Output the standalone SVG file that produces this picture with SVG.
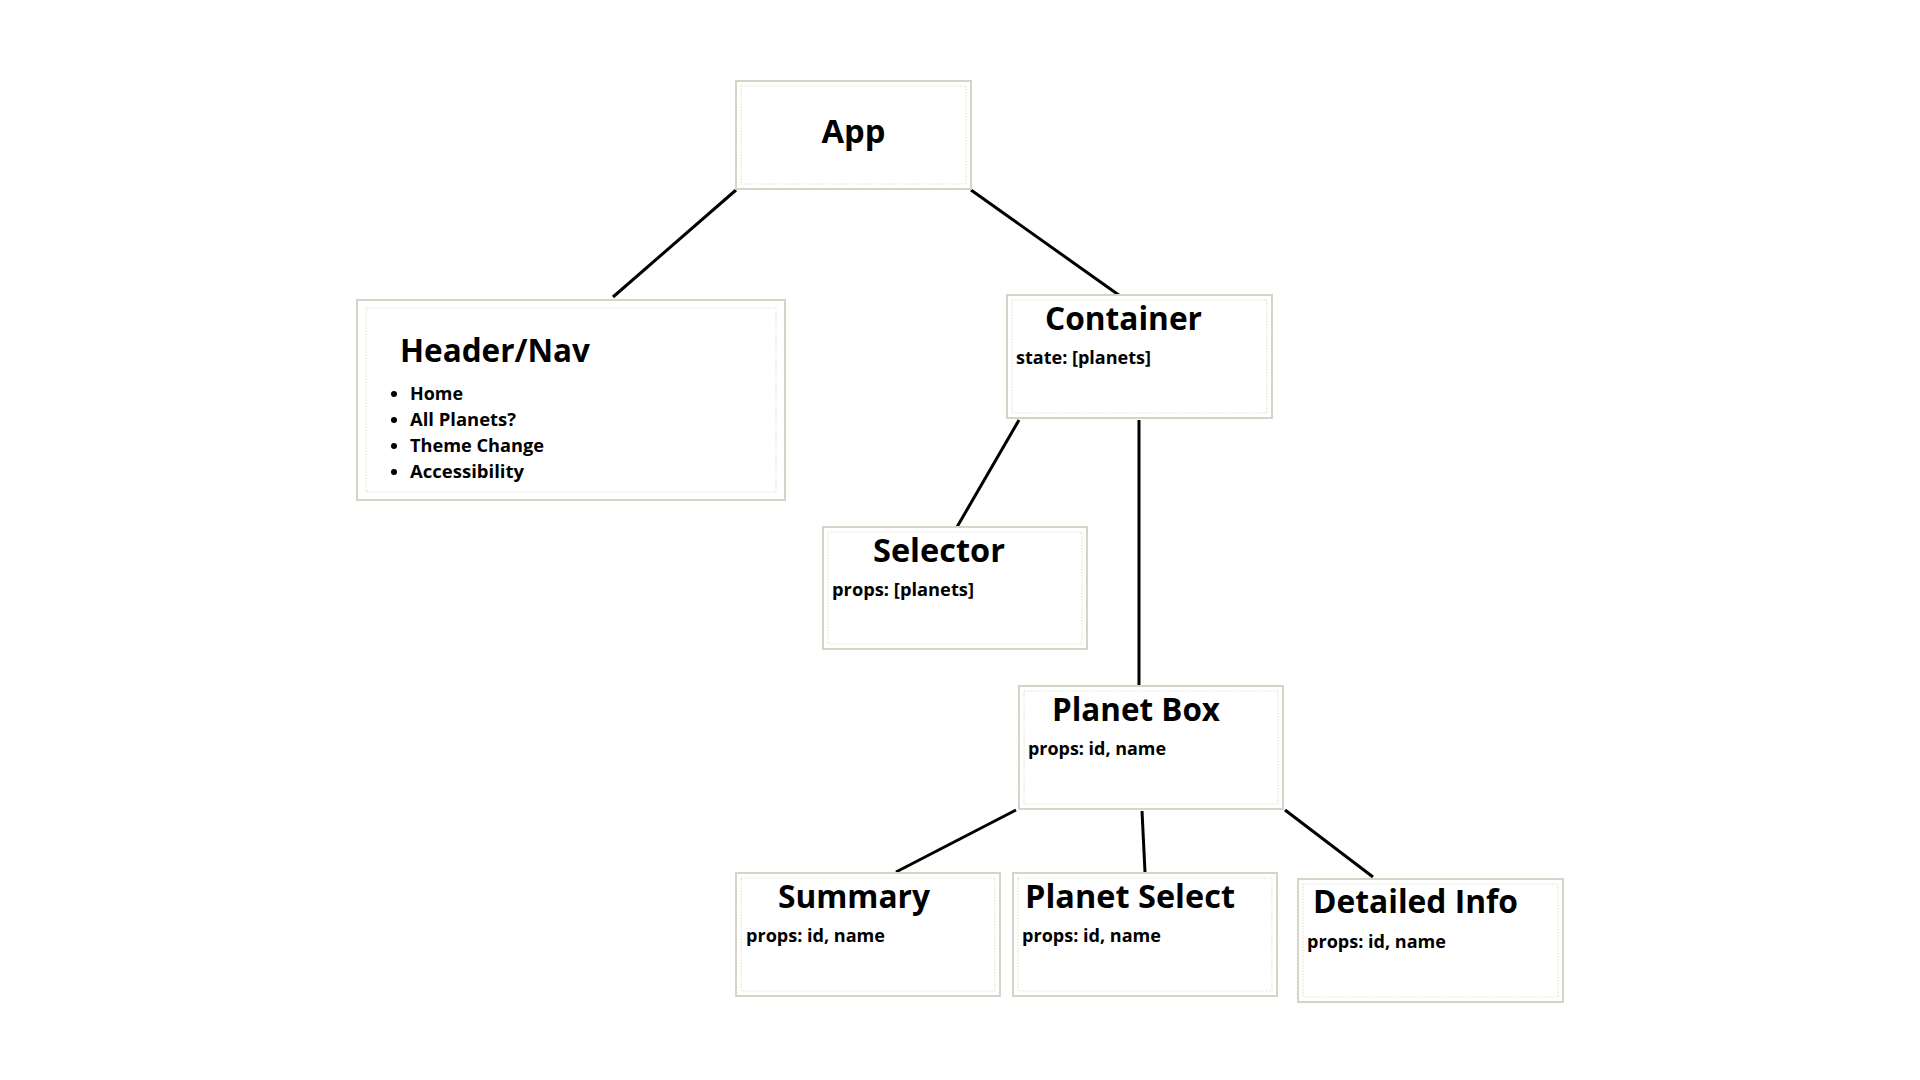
<svg xmlns="http://www.w3.org/2000/svg" width="1920" height="1080" viewBox="0 0 1920 1080">
<style>
.outer{fill:#ffffff;stroke:#d6d4c6;stroke-width:2}
.inner{fill:none;stroke:#e2e1d6;stroke-width:1.2;stroke-dasharray:1.5 1.5}
.title{font-family:"Open Sans","Noto Sans",sans-serif;font-weight:700;font-size:32px;fill:#000}
.sub{font-family:"Open Sans","Noto Sans",sans-serif;font-weight:700;font-size:18px;fill:#000}
.conn line{stroke:#000;stroke-width:3;stroke-linecap:butt}
</style>
<rect width="1920" height="1080" fill="#ffffff"/>
<g id="connectors" class="conn">
<line x1="736" y1="190" x2="613" y2="297"/>
<line x1="971" y1="190" x2="1123" y2="298"/>
<line x1="1019" y1="420" x2="957" y2="527"/>
<line x1="1139" y1="420" x2="1139" y2="686"/>
<line x1="1016" y1="810" x2="896" y2="872"/>
<line x1="1142" y1="811" x2="1145" y2="872"/>
<line x1="1285" y1="810" x2="1373" y2="877"/>
</g>
<g id="app">
<rect class="outer" x="736" y="81" width="235" height="108"/>
<rect class="inner" x="741" y="86" width="225" height="98"/>
<text class="title" x="853.5" y="143" text-anchor="middle" textLength="64" lengthAdjust="spacingAndGlyphs">App</text>
</g>
<g id="header-nav">
<rect class="outer" x="357" y="300" width="428" height="200"/>
<rect class="inner" x="366" y="308" width="410" height="184"/>
<text class="title" x="400" y="362" textLength="190" lengthAdjust="spacingAndGlyphs">Header/Nav</text>
<circle cx="394" cy="394" r="3"/>
<circle cx="394" cy="420" r="3"/>
<circle cx="394" cy="446" r="3"/>
<circle cx="394" cy="472" r="3"/>
<text class="sub" x="410" y="400" textLength="53" lengthAdjust="spacingAndGlyphs">Home</text>
<text class="sub" x="410" y="426" textLength="106" lengthAdjust="spacingAndGlyphs">All Planets?</text>
<text class="sub" x="410" y="452" textLength="134" lengthAdjust="spacingAndGlyphs">Theme Change</text>
<text class="sub" x="410" y="478" textLength="114" lengthAdjust="spacingAndGlyphs">Accessibility</text>
</g>
<g id="container">
<rect class="outer" x="1007" y="295" width="265" height="123"/>
<rect class="inner" x="1012" y="300" width="255" height="113"/>
<text class="title" x="1045" y="330" textLength="157" lengthAdjust="spacingAndGlyphs">Container</text>
<text class="sub" x="1016" y="364" textLength="135" lengthAdjust="spacingAndGlyphs">state: [planets]</text>
</g>
<g id="selector">
<rect class="outer" x="823" y="527" width="264" height="122"/>
<rect class="inner" x="828" y="532" width="254" height="112"/>
<text class="title" x="873" y="562" textLength="132" lengthAdjust="spacingAndGlyphs">Selector</text>
<text class="sub" x="832" y="596" textLength="142" lengthAdjust="spacingAndGlyphs">props: [planets]</text>
</g>
<g id="planet-box">
<rect class="outer" x="1019" y="686" width="264" height="123"/>
<rect class="inner" x="1024" y="691" width="254" height="113"/>
<text class="title" x="1052" y="721" textLength="168" lengthAdjust="spacingAndGlyphs">Planet Box</text>
<text class="sub" x="1028" y="755" textLength="138" lengthAdjust="spacingAndGlyphs">props: id, name</text>
</g>
<g id="summary">
<rect class="outer" x="736" y="873" width="264" height="123"/>
<rect class="inner" x="741" y="878" width="254" height="113"/>
<text class="title" x="778" y="908" textLength="152" lengthAdjust="spacingAndGlyphs">Summary</text>
<text class="sub" x="746" y="942" textLength="139" lengthAdjust="spacingAndGlyphs">props: id, name</text>
</g>
<g id="planet-select">
<rect class="outer" x="1013" y="873" width="264" height="123"/>
<rect class="inner" x="1018" y="878" width="254" height="113"/>
<text class="title" x="1025" y="908" textLength="210" lengthAdjust="spacingAndGlyphs">Planet Select</text>
<text class="sub" x="1022" y="942" textLength="139" lengthAdjust="spacingAndGlyphs">props: id, name</text>
</g>
<g id="detailed-info">
<rect class="outer" x="1298" y="879" width="265" height="123"/>
<rect class="inner" x="1303" y="884" width="255" height="113"/>
<text class="title" x="1313" y="913" textLength="205" lengthAdjust="spacingAndGlyphs">Detailed Info</text>
<text class="sub" x="1307" y="948" textLength="139" lengthAdjust="spacingAndGlyphs">props: id, name</text>
</g>
</svg>
